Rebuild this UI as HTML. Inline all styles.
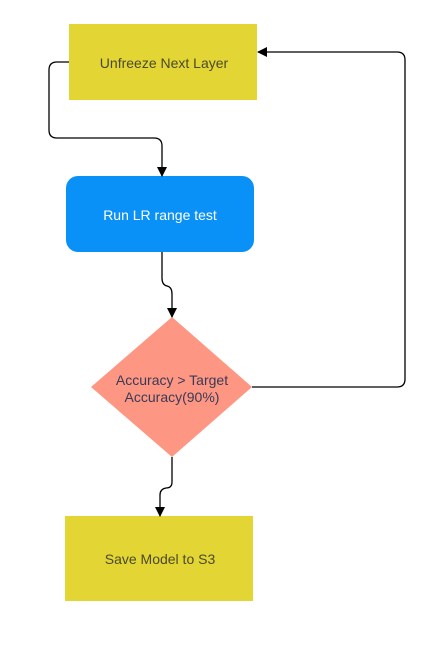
<!DOCTYPE html>
<html><head><style>
html,body{margin:0;padding:0;background:#fff;width:439px;height:650px;overflow:hidden}
svg{display:block}
text{font-family:"Liberation Sans",sans-serif;font-size:14px;text-anchor:middle}
</style></head><body>
<svg width="439" height="650" viewBox="0 0 439 650">
<defs><marker id="a" markerWidth="10" markerHeight="10" refX="9" refY="5" orient="auto" markerUnits="userSpaceOnUse"><path d="M0,0 L10,5 L0,10z" fill="#000"/></marker></defs>
<rect x="69" y="24" width="188" height="76" fill="#e3d534"/>
<text x="164" y="68" fill="#4a4a2a">Unfreeze Next Layer</text>
<rect x="66" y="176" width="188" height="76" rx="12" fill="#0a91f7"/>
<text x="160" y="220" fill="#fff" font-weight="500">Run LR range test</text>
<polygon points="172,317 252,387 172,457 91,387" fill="#fd9784"/>
<text x="172" y="385" fill="#3a3a55" font-weight="500">Accuracy &gt; Target</text>
<text x="172" y="402" fill="#3a3a55" font-weight="500">Accuracy(90%)</text>
<rect x="65" y="516" width="188" height="85" fill="#e3d534"/>
<text x="160" y="564" fill="#4a4a2a">Save Model to S3</text>
<g fill="none" stroke="#000" stroke-width="1.3">
<path d="M69,62 H57 Q49,62 49,70 V130 Q49,138 57,138 H154 Q162,138 162,146 V176" marker-end="url(#a)"/>
<path d="M162,252 V278 Q162,285 167,286 Q172,287 172,294 V317" marker-end="url(#a)"/>
<path d="M252,387 H397 Q405,387 405,379 V60 Q405,52 397,52 H258" marker-end="url(#a)"/>
<path d="M172,457 V482 Q172,488 166,488 Q160,489 160,495 V516" marker-end="url(#a)"/>
</g>
</svg>
</body></html>
